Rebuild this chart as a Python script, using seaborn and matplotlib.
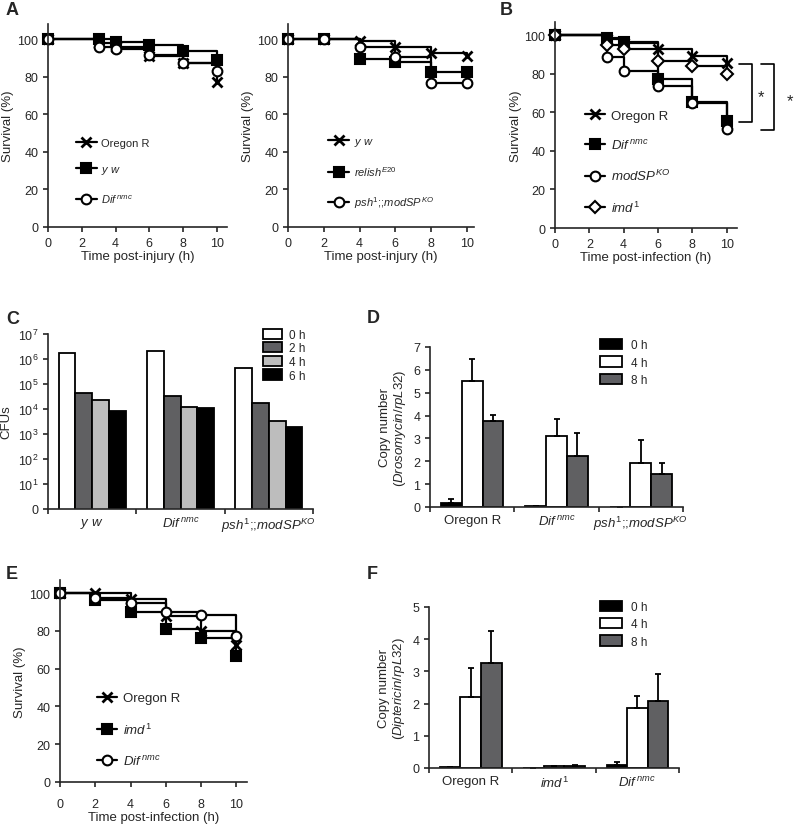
import numpy as np
import pandas as pd
import matplotlib
matplotlib.use('Agg')
import matplotlib.pyplot as plt
from matplotlib.patches import Patch
import seaborn as sns

# ---- labels ----
OREGON = 'Oregon R'
YW = r'$y\ w$'
DIF = r'$Dif^{\,nmc}$'
RELISH = r'$relish^{E20}$'
PSH_MOD = r'$psh^{1}$;;$modSP^{KO}$'
MODSP = r'$modSP^{KO}$'
IMD = r'$imd^{1}$'

# ---- survival (%) ----
times_a1 = [0, 3, 4, 6, 8, 10]
a1_oregon = [100, 98, 96, 91, 87, 77]
a1_yw = [100, 100, 98.5, 97, 93.5, 89]
a1_dif = [100, 96, 94.5, 91.5, 87.5, 83]

times_a2 = [0, 2, 4, 6, 8, 10]
a2_yw = [100, 100, 98.8, 96, 92.5, 90.8]
a2_relish = [100, 100, 89.5, 88, 82.5, 82.5]
a2_psh = [100, 100, 96, 90.5, 76.5, 76.5]

times_b = [0, 3, 4, 6, 8, 10]
b_oregon = [100, 98, 96, 93, 89.3, 85.8]
b_dif = [100, 98.8, 96.5, 77.5, 65.4, 55.4]
b_modsp = [100, 89, 81.5, 73.7, 65, 51.6]
b_imd = [100, 95.2, 93.1, 86.7, 84.1, 79.8]

times_e = [0, 2, 4, 6, 8, 10]
e_oregon = [100, 100, 96.8, 88, 80, 72.5]
e_imd = [100, 96.5, 90.3, 81.3, 76.2, 66.5]
e_dif = [100, 97.4, 94.7, 90.3, 88.6, 77.1]

# ---- C: CFUs ----
c_groups = [YW, DIF, PSH_MOD]
c_times = ['0 h', '2 h', '4 h', '6 h']
c_0h = [1.7e6, 2.0e6, 4.4e5]
c_2h = [4.5e4, 3.3e4, 1.8e4]
c_4h = [2.2e4, 1.2e4, 3.3e3]
c_6h = [8.0e3, 1.1e4, 1.9e3]

# ---- D: Drosomycin ----
d_groups = [OREGON, DIF, PSH_MOD]
d_times = ['0 h', '4 h', '8 h']
d_0h = [0.17, 0.03, 0.02]
d_0h_err = [0.18, 0, 0]
d_4h = [5.5, 3.1, 1.94]
d_4h_err = [0.98, 0.76, 0.98]
d_8h = [3.76, 2.23, 1.46]
d_8h_err = [0.28, 0.99, 0.45]

# ---- F: Diptericin ----
f_groups = [OREGON, IMD, DIF]
f_0h = [0.02, 0.01, 0.10]
f_0h_err = [0, 0, 0.08]
f_4h = [2.22, 0.06, 1.87]
f_4h_err = [0.90, 0.01, 0.36]
f_8h = [3.25, 0.07, 2.09]
f_8h_err = [1.02, 0.03, 0.83]

sns.set_theme(style='ticks')
plt.rcParams['font.family'] = ['Liberation Sans', 'DejaVu Sans']
plt.rcParams['mathtext.fontset'] = 'custom'
plt.rcParams['mathtext.rm'] = 'Liberation Sans'
plt.rcParams['mathtext.it'] = 'Liberation Sans:italic'
plt.rcParams['axes.linewidth'] = 1.2
plt.rcParams['xtick.major.width'] = 1.2
plt.rcParams['ytick.major.width'] = 1.2
plt.rcParams['xtick.major.size'] = 3.5
plt.rcParams['ytick.major.size'] = 3.5
plt.rcParams['xtick.labelsize'] = 9
plt.rcParams['ytick.labelsize'] = 9
plt.rcParams['axes.labelsize'] = 9.5

W, H = 796, 828
fig = plt.figure(figsize=(W / 100, H / 100), dpi=100)


def rect(l, t, r, b):
    return [l / W, 1 - b / H, (r - l) / W, (b - t) / H]


def survival(ax, t, series, labels, markers, faces, xmax, ymax, xlabel, leg_xy,
             leg_size, spacing, hlen):
    for y, lab, m, fc in zip(series, labels, markers, faces):
        ms = 6 if m == 'D' else 7
        mew = 2 if m == 'x' else 1.5
        sns.lineplot(x=t, y=y, ax=ax, color='black', lw=1.6, drawstyle='steps-post',
                     marker=m, markersize=ms, markerfacecolor=fc, markeredgecolor='black',
                     markeredgewidth=mew, clip_on=False, label=lab)
    ax.set_xlim(0, xmax)
    ax.set_ylim(0, ymax)
    ax.set_xticks([0, 2, 4, 6, 8, 10])
    ax.set_yticks([0, 20, 40, 60, 80, 100])
    ax.set_xlabel(xlabel, labelpad=1)
    ax.set_ylabel('Survival (%)', labelpad=2)
    handles = ax.get_lines()[:len(labels)]
    ax.legend(handles, labels, loc='center left', bbox_to_anchor=leg_xy, frameon=False,
              handlelength=hlen, handletextpad=0.4, labelspacing=spacing, borderpad=0,
              borderaxespad=0, fontsize=leg_size, numpoints=1)
    sns.despine(ax=ax)


ax = fig.add_axes(rect(48, 25, 227, 228))
survival(ax, times_a1, [a1_oregon, a1_yw, a1_dif], [OREGON, YW, DIF], ['x', 's', 'o'],
         ['black', 'black', 'white'], 10.6, 108, 'Time post-injury (h)', (0.155, 0.273),
         8, 1.45, 1.9)

ax = fig.add_axes(rect(288, 25, 474, 228))
survival(ax, times_a2, [a2_yw, a2_relish, a2_psh], [YW, RELISH, PSH_MOD], ['x', 's', 'o'],
         ['black', 'black', 'white'], 10.4, 108, 'Time post-injury (h)', (0.215, 0.268),
         8, 1.45, 1.9)

ax = fig.add_axes(rect(555, 23, 737, 229))
survival(ax, times_b, [b_oregon, b_dif, b_modsp, b_imd], [OREGON, DIF, MODSP, IMD],
         ['x', 's', 'o', 'D'], ['black', 'black', 'white', 'white'], 10.6, 107,
         'Time post-infection (h)', (0.165, 0.32), 9.5, 1.22, 1.55)
for x0, x1, ylo, sx, sy in [(10.7, 11.5, 55, 12.0, 68), (12.0, 12.77, 50.7, 13.7, 66)]:
    ax.plot([x0, x1, x1, x0], [85, 85, ylo, ylo], color='black', lw=1.2, clip_on=False)
    ax.text(sx, sy, '*', ha='center', va='center', fontsize=12)

ax = fig.add_axes(rect(60, 581, 247, 783))
survival(ax, times_e, [e_oregon, e_imd, e_dif], [OREGON, IMD, DIF], ['x', 's', 'o'],
         ['black', 'black', 'white'], 10.6, 107, 'Time post-infection (h)', (0.198, 0.257),
         9.5, 1.3, 1.55)
ax.tick_params(axis='x', pad=8)


def group_ticks(ax, labels):
    ax.set_xlim(-0.5, 2.5)
    ax.set_xticks([-0.5, 0.5, 1.5, 2.5], labels=[''] * 4)
    ax.set_xticks([0, 1, 2], labels=labels, minor=True)
    ax.tick_params(axis='x', which='minor', length=0, labelsize=9.5, pad=5)
    ax.set_xlabel('')


# ---- C ----
ax = fig.add_axes(rect(48, 335, 313, 510))
c_colors = ['white', '#5f5f63', '#bdbdbd', 'black']
df_c = pd.DataFrame({
    'group': c_groups * 4,
    'time': np.repeat(c_times, 3),
    'cfu': c_0h + c_2h + c_4h + c_6h,
})
sns.barplot(data=df_c, x='group', y='cfu', hue='time', order=c_groups, hue_order=c_times,
            palette=c_colors, edgecolor='black', linewidth=1.3, width=0.76, gap=0,
            errorbar=None, ax=ax, legend=False)
ax.set_yscale('log')
ax.set_ylim(1, 1e7)
ax.set_yticks([10.0 ** k for k in range(8)],
              labels=['0'] + [r'$10^{%d}$' % k for k in range(1, 8)])
ax.minorticks_off()
group_ticks(ax, c_groups)
ax.set_ylabel('CFUs', labelpad=4)
ax.legend([Patch(facecolor=c, edgecolor='black', linewidth=1.3) for c in c_colors], c_times,
          loc='upper left', bbox_to_anchor=(0.81, 1.03), frameon=False, handlelength=1.6,
          handleheight=0.95, handletextpad=0.6, labelspacing=0.12, borderpad=0,
          borderaxespad=0, fontsize=8.5)
sns.despine(ax=ax)

# ---- D / F ----
qpcr_colors = ['black', 'white', '#5f5f63']


def qpcr(ax, groups, means, errs, ymax, ylabel, leg_xy):
    df = pd.DataFrame({
        'group': groups * 3,
        'time': np.repeat(d_times, 3),
        'value': means[0] + means[1] + means[2],
    })
    sns.barplot(data=df, x='group', y='value', hue='time', order=groups, hue_order=d_times,
                palette=qpcr_colors, edgecolor='black', linewidth=1.3, width=0.74, gap=0,
                errorbar=None, ax=ax, legend=False)
    for cont, mean, err in zip(ax.containers, means, errs):
        xs = [p.get_x() + p.get_width() / 2 for p in cont.patches]
        ax.errorbar(xs, mean, yerr=[np.zeros(3), err], fmt='none', ecolor='black',
                    elinewidth=1.3, capsize=2.5, capthick=1.3, zorder=1)
    ax.set_ylim(0, ymax)
    ax.set_yticks(range(ymax + 1))
    group_ticks(ax, groups)
    ax.set_ylabel(ylabel, labelpad=4, linespacing=1.1)
    ax.legend([Patch(facecolor=c, edgecolor='black', linewidth=1.3) for c in qpcr_colors],
              d_times, loc='upper left', bbox_to_anchor=leg_xy, frameon=False,
              handlelength=1.9, handleheight=0.95, handletextpad=0.7, labelspacing=0.45,
              borderpad=0, borderaxespad=0, fontsize=8.5)
    sns.despine(ax=ax)


ax = fig.add_axes(rect(430, 348, 683, 508))
qpcr(ax, d_groups, [d_0h, d_4h, d_8h], [d_0h_err, d_4h_err, d_8h_err], 7,
     'Copy number\n($Drosomycin/rpL32$)', (0.672, 1.05))

ax = fig.add_axes(rect(429, 608, 679, 769))
qpcr(ax, f_groups, [f_0h, f_4h, f_8h], [f_0h_err, f_4h_err, f_8h_err], 5,
     'Copy number\n($Diptericin/rpL32$)', (0.684, 1.04))

# panel letters
for letter, x, y in [('A', 6, 2), ('B', 500, 2), ('C', 6, 311), ('D', 367, 310),
                     ('E', 6, 566), ('F', 367, 566)]:
    fig.text(x / W, 1 - y / H, letter, fontsize=13, weight='bold', va='top', ha='left')

fig.savefig('out.png', dpi=100)
